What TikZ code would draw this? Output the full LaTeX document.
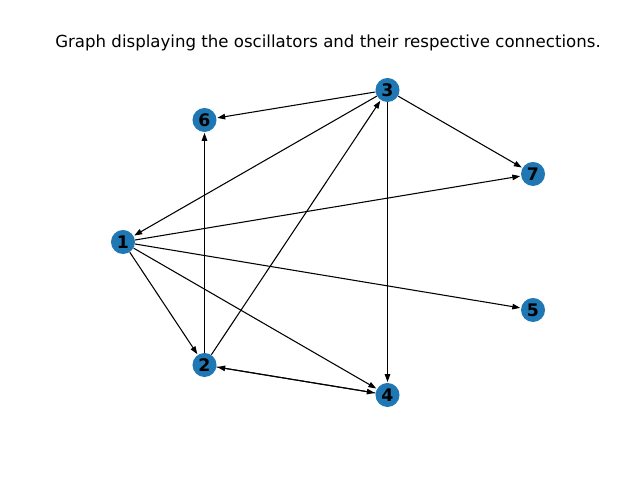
\documentclass[tikz,border=0pt]{standalone}
\usepackage{fontspec}
\setmainfont{DejaVu Sans}
\usetikzlibrary{arrows.meta}
\definecolor{nodeblue}{HTML}{1F77B4}

\begin{document}
\begin{tikzpicture}[x=0.0254cm,y=-0.0254cm,font=\fontsize{12}{14}\selectfont,
 v/.style={circle,fill=nodeblue,minimum size=0.61cm,inner sep=0pt,font=\fontsize{12.5}{14}\selectfont\bfseries},
 e/.style={-{Triangle[length=2mm,width=1.4mm]},line width=0.27mm,shorten >=0.5pt}]
\useasboundingbox (0,0) rectangle (640,480);
\node[v] (1) at (123,242) {1};
\node[v] (2) at (204.5,365) {2};
\node[v] (3) at (387.5,90) {3};
\node[v] (4) at (387.5,395) {4};
\node[v] (5) at (533,310) {5};
\node[v] (6) at (204.5,120) {6};
\node[v] (7) at (533,174) {7};
\draw[e] (3)--(6); \draw[e] (3)--(1); \draw[e] (3)--(7); \draw[e] (3)--(4);
\draw[e] (1)--(7); \draw[e] (1)--(5); \draw[e] (1)--(2); \draw[e] (1)--(4);
\draw[e] (2)--(6); \draw[e] (2)--(3); \draw[e] (2)--(4); \draw[e] (4)--(2);
\node (title) at (328,43) {Graph displaying the oscillators and their respective connections.};
\end{tikzpicture}
\end{document}
